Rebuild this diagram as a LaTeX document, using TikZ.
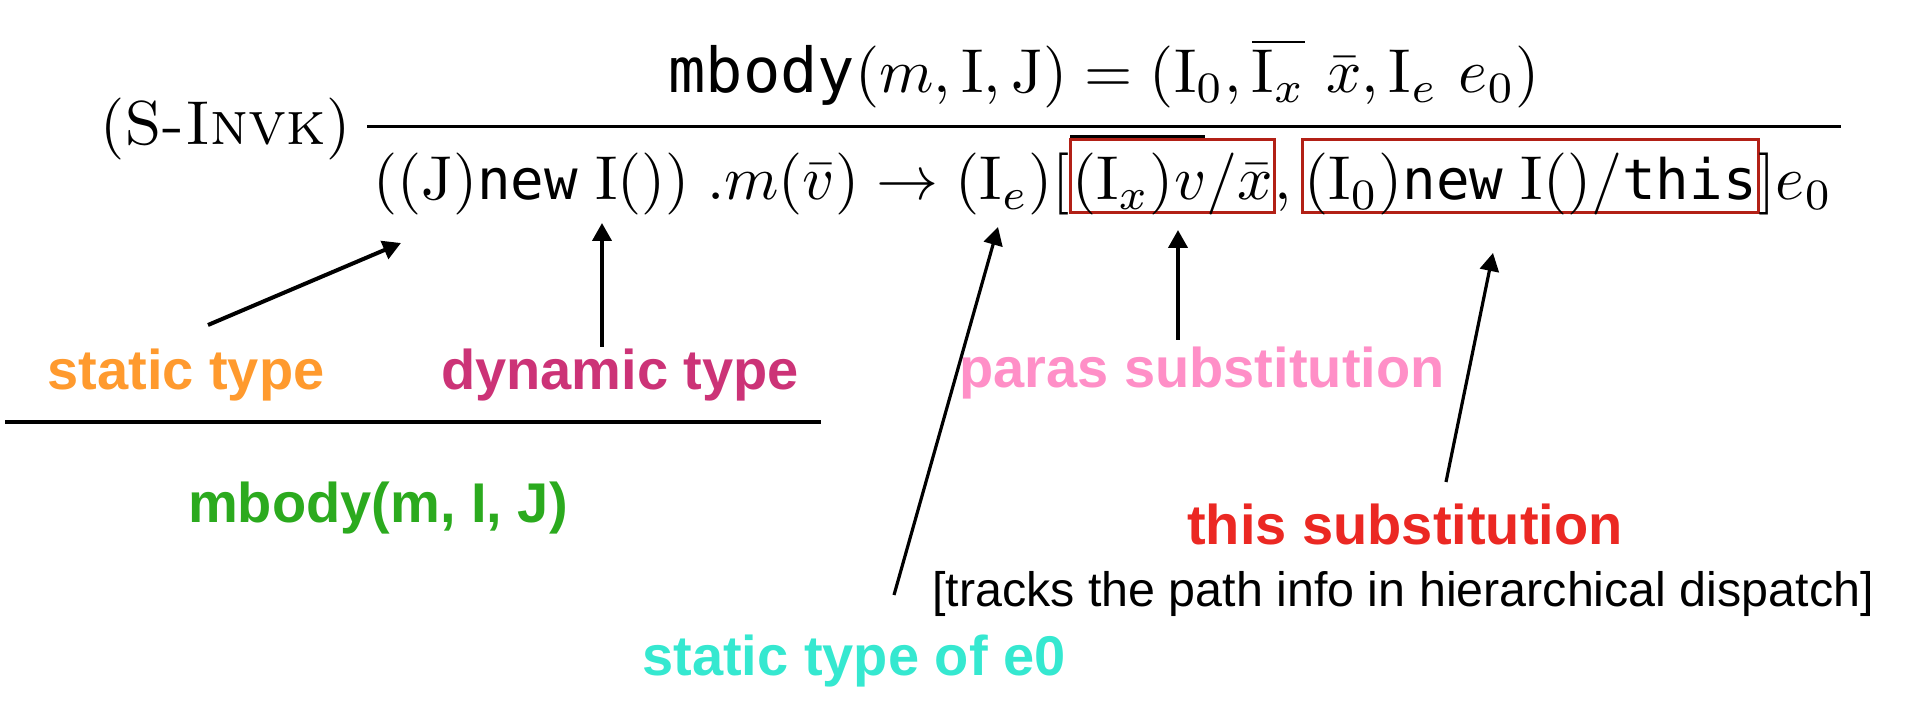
\documentclass[tikz,border=0pt]{standalone}
\usepackage{graphicx}
\usepackage{amsmath}
\usepackage{fontspec}
\usetikzlibrary{arrows.meta,calc}
\newfontfamily\lblfont{Liberation Sans}
\newfontfamily\codefont{DejaVu Sans Mono}
\newfontfamily\codefontd{DejaVu Sans Mono}[Scale=0.9]
\definecolor{cOrange}{RGB}{255,154,46}
\definecolor{cMagenta}{RGB}{204,51,119}
\definecolor{cPink}{RGB}{255,143,199}
\definecolor{cGreen}{RGB}{43,170,30}
\definecolor{cRed}{RGB}{235,40,35}
\definecolor{cCyan}{RGB}{53,232,208}
\definecolor{cBox}{RGB}{178,32,22}
\newcommand{\cd}[1]{\mbox{\codefont #1}}
\newcommand{\cdd}[1]{\mbox{\codefontd #1}}
\newcommand{\mth}[1]{\scalebox{3.1}{$#1$}}
\tikzset{
  mathtxt/.style={inner sep=0pt, outer sep=0pt, font=\fontsize{10pt}{12pt}\selectfont},
  redbox/.style={mathtxt, draw=cBox, line width=1.5pt, inner xsep=1pt, inner ysep=0pt,
     text height=30pt, text depth=6.5pt},
  lbl/.style={inner sep=0pt, anchor=base, font=\lblfont\bfseries\fontsize{28pt}{32pt}\selectfont},
  note/.style={inner sep=0pt, anchor=base, font=\lblfont\fontsize{24.2pt}{28pt}\selectfont},
  arr/.style={-{Triangle[length=9pt,width=9.5pt]}, line width=2pt},
  arrthin/.style={-{Triangle[length=9pt,width=9.5pt]}, line width=1.6pt},
  rulestroke/.style={line width=1.5pt}
}
\begin{document}
\begin{tikzpicture}[x=0.5pt,y=-0.5pt]
\path[use as bounding box] (0,0) rectangle (1908,710);
% rule name
\node[mathtxt, anchor=base west] (rname) at (100,145) {\scalebox{3.1}{(\textsc{S-Invk})}};
% numerator
\node[mathtxt, anchor=base] (num) at (1104,93)
  {\mth{\cd{mbody}(m, \mathrm{I}, \mathrm{J}) = (\mathrm{I}_0, \overline{\mathrm{I}_x}\ \bar{x}, \mathrm{I}_e\ e_0)}};
% fraction line
\coordinate (fl) at (367,127);
\coordinate (fr) at (1841,127);
\draw[rulestroke] (fl) -- (fr);
% denominator
\node[mathtxt, anchor=base west] (dA) at (373,200)
  {\mth{((\mathrm{J})\cdd{new}\;\mathrm{I}())\;.m(\bar{v}) \rightarrow (\mathrm{I}_e)[}};
\node[redbox, anchor=base west] (bx1) at (dA.base east) {\mth{(\mathrm{I}_x)v/\bar{x}}};
\node[mathtxt, anchor=base west] (dC) at (bx1.base east) {\mth{,\,}};
\node[redbox, anchor=base west] (bx2) at (dC.base east)
  {\mth{(\mathrm{I}_0)\cdd{new}\;\mathrm{I}()/\cdd{this}}};
\node[mathtxt, anchor=base west] (dE) at (bx2.base east) {\mth{]e_0}};
\draw[line width=1.5pt] ([yshift=1.5pt]bx1.north west) -- ([yshift=1.5pt]$(bx1.north west)!0.66!(bx1.north east)$);
% labels
\node[lbl, text=cOrange] (lstatic) at (186,390) {static type};
\node[lbl, text=cMagenta] (ldyn) at (620,390) {dynamic type};
\node[lbl, text=cPink] (lparas) at (1202,388) {paras substitution};
\node[lbl, text=cGreen] (lmbody) at (378,523) {mbody(m, I, J)};
\node[lbl, text=cRed] (lthis) at (1405,545) {this substitution};
\node[note] (ltrack) at (1403,607) {[tracks the path info in hierarchical dispatch]};
\node[lbl, text=cCyan] (le0) at (854,676) {static type of e0};
% lower rule
\coordinate (rl) at (5,422);
\coordinate (rr) at (821,422);
\draw[line width=2pt] (rl) -- (rr);
% arrows
\coordinate (t1) at (208,325); \coordinate (h1) at (401,243);
\coordinate (t2) at (602,347); \coordinate (h2) at (602,223);
\coordinate (t3) at (894,595); \coordinate (h3) at (998,227);
\coordinate (t4) at (1178,340); \coordinate (h4) at (1178,230);
\coordinate (t5) at (1446,482); \coordinate (h5) at (1493,253);
\draw[arr] (t1) -- (h1);
\draw[arr] (t2) -- (h2);
\draw[arrthin] (t3) -- (h3);
\draw[arr] (t4) -- (h4);
\draw[arrthin] (t5) -- (h5);
\end{tikzpicture}
\end{document}
